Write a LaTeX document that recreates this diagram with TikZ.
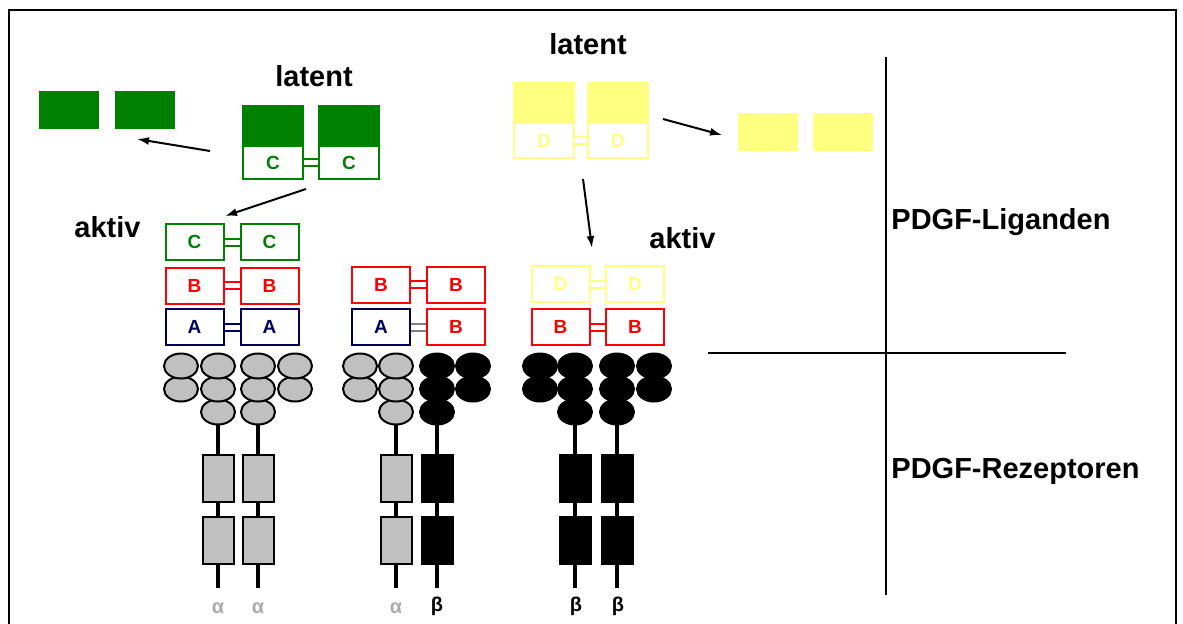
\documentclass[tikz,border=0pt]{standalone}
\usepackage{fontspec}
\setmainfont{Liberation Sans}
\usetikzlibrary{arrows.meta,positioning}

\definecolor{ligGreen}{RGB}{0,128,0}
\definecolor{ligRed}{RGB}{255,0,0}
\definecolor{ligNavy}{RGB}{0,0,90}
\definecolor{ligYellow}{RGB}{255,255,128}
\definecolor{recGray}{RGB}{192,192,192}
\definecolor{alphaGray}{RGB}{170,170,170}

\begin{document}
\begin{tikzpicture}[x=0.5pt,y=0.5pt,yscale=-1,xscale=1,
	ligbox/.style={draw=#1, text=#1, fill=white, line width=1pt, minimum width=29pt, minimum height=18pt, inner sep=0pt, font=\bfseries\fontsize{9.5}{9.5}\selectfont},
	freebox/.style={fill=#1, minimum width=30pt, minimum height=19pt, inner sep=0pt},
	bond/.style={draw=#1, double=white, double distance=2.5pt, line width=1pt},
	pfeil/.style={-{Latex[length=6pt,width=4pt]}, line width=1pt},
	headtext/.style={font=\bfseries\fontsize{14.5}{17}\selectfont, inner sep=0pt},
	greek/.style={font=\bfseries\fontsize{10}{10}\selectfont, inner sep=0pt},
	domain/.style={fill=#1, line width=1pt}]
	\useasboundingbox (0,0) rectangle (1183,623);

	%Shape: Frame
	\draw[line width=1pt] (9,640) -- (9,10) -- (1176,10) -- (1176,640);
	%Straight Lines: dividers
	\draw[line width=1pt] (886,57) -- (886,595);
	\draw[line width=1pt] (708,353) -- (1066,353);

	% Text Node
	\node[headtext] (lat1) at (314,76) {latent};
	\node[headtext] (lat2) at (588,44) {latent};
	\node[headtext] (akt1) at (107.5,227) {aktiv};
	\node[headtext] (akt2) at (682.5,238) {aktiv};
	\node[headtext, anchor=west] (lig) at (891,222) {PDGF-Liganden};
	\node[headtext, anchor=west] (rez) at (891,471) {PDGF-Rezeptoren};

	%latent PDGF-C dimer and its free propeptides
	\node[ligbox=ligGreen, minimum width=30pt, minimum height=16.5pt] (gl1) at (273,162.5) {C};
	\node[ligbox=ligGreen, minimum width=30pt, minimum height=16.5pt] (gl2) at (349,162.5) {C};
	\node[freebox=ligGreen, draw=ligGreen, line width=1pt, above=0pt of gl1] (gt1) {};
	\node[freebox=ligGreen, draw=ligGreen, line width=1pt, above=0pt of gl2] (gt2) {};
	\draw[bond=ligGreen] (gl1) -- (gl2);
	\node[freebox=ligGreen] (gf1) at (69,110) {};
	\node[freebox=ligGreen] (gf2) at (145,110) {};

	%latent PDGF-D dimer and its free propeptides
	\node[ligbox=ligYellow, minimum width=30pt, minimum height=17.5pt] (yl1) at (544,140.5) {D};
	\node[ligbox=ligYellow, minimum width=30pt, minimum height=17.5pt] (yl2) at (618,140.5) {D};
	\node[freebox=ligYellow, draw=ligYellow, line width=1pt, above=0pt of yl1] (yt1) {};
	\node[freebox=ligYellow, draw=ligYellow, line width=1pt, above=0pt of yl2] (yt2) {};
	\draw[bond=ligYellow] (yl1) -- (yl2);
	\node[freebox=ligYellow] (yf1) at (767.5,132) {};
	\node[freebox=ligYellow] (yf2) at (843,132) {};

	%Arrows: cleavage
	\coordinate (ga0) at (210,151);
	\coordinate (ga1) at (137,139);
	\coordinate (gb0) at (306,189);
	\coordinate (gb1) at (225,216);
	\coordinate (ya0) at (663,119);
	\coordinate (ya1) at (722,135);
	\coordinate (yb0) at (583,179);
	\coordinate (yb1) at (592,248);
	\draw[pfeil] (ga0) -- (ga1);
	\draw[pfeil] (gb0) -- (gb1);
	\draw[pfeil] (ya0) -- (ya1);
	\draw[pfeil] (yb0) -- (yb1);

	%active dimers: CC, BB, AA
	\node[ligbox=ligGreen] (cc1) at (194.5,242) {C};
	\node[ligbox=ligGreen] (cc2) at (269.5,242) {C};
	\node[ligbox=ligRed] (bb1) at (194.5,285.5) {B};
	\node[ligbox=ligRed] (bb2) at (269.5,285.5) {B};
	\node[ligbox=ligNavy] (aa1) at (194.5,327) {A};
	\node[ligbox=ligNavy] (aa2) at (269.5,327) {A};
	\draw[bond=ligGreen] (cc1) -- (cc2);
	\draw[bond=ligRed] (bb1) -- (bb2);
	\draw[bond=ligNavy] (aa1) -- (aa2);

	%active dimers: BB, AB
	\node[ligbox=ligRed] (bm1) at (381,284.5) {B};
	\node[ligbox=ligRed] (bm2) at (456,284.5) {B};
	\node[ligbox=ligNavy] (ab1) at (381,327) {A};
	\node[ligbox=ligRed] (ab2) at (456,327) {B};
	\draw[bond=ligRed] (bm1) -- (bm2);
	\draw[bond=gray] (ab1) -- (ab2);

	%active dimers: DD, BB
	\node[ligbox=ligYellow] (dd1) at (560.5,284) {D};
	\node[ligbox=ligYellow] (dd2) at (635,284) {D};
	\node[ligbox=ligRed] (br1) at (560.5,327) {B};
	\node[ligbox=ligRed] (br2) at (635,327) {B};
	\draw[bond=ligYellow] (dd1) -- (dd2);
	\draw[bond=ligRed] (br1) -- (br2);

	%Receptors: stem x / fill / offset of the outer Ig column
	\foreach \rx/\rfill/\rdir in {218/recGray/-37, 258/recGray/37, 396/recGray/-36, 437/black/36, 575/black/-35, 617/black/37}{
		\begin{scope}[shift={(\rx,0)}]
			\draw[line width=2pt] (0,412) -- (0,588);
			\draw[domain=\rfill] (-15.5,455) rectangle (15.5,502);
			\draw[domain=\rfill] (-15.5,517) rectangle (15.5,564);
			\draw[domain=\rfill] (0,412) ellipse [x radius=17, y radius=12.5];
			\draw[domain=\rfill] (0,389) ellipse [x radius=17, y radius=12.5];
			\draw[domain=\rfill] (\rdir,389) ellipse [x radius=17, y radius=12.5];
			\draw[domain=\rfill] (0,366) ellipse [x radius=17, y radius=12.5];
			\draw[domain=\rfill] (\rdir,366) ellipse [x radius=17, y radius=12.5];
		\end{scope}
	}

	% Text Node: receptor chains
	\node[greek, text=alphaGray] (na1) at (218,608) {α};
	\node[greek, text=alphaGray] (na2) at (258,608) {α};
	\node[greek, text=alphaGray] (na3) at (396,608) {α};
	\node[greek] (nb1) at (437,606) {β};
	\node[greek] (nb2) at (576,606) {β};
	\node[greek] (nb3) at (618,606) {β};
\end{tikzpicture}
\end{document}
